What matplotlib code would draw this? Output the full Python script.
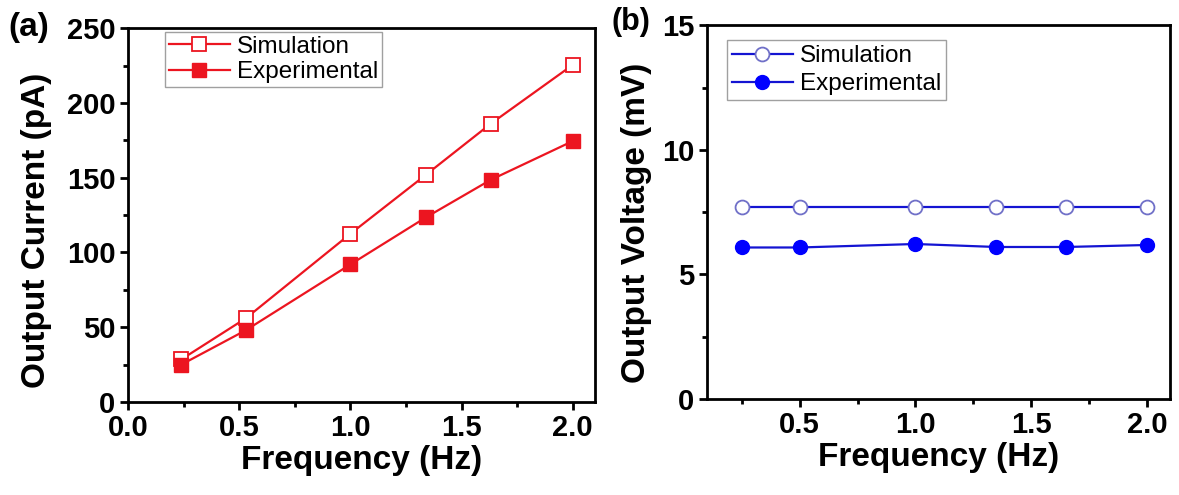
import matplotlib
matplotlib.use("Agg")
import matplotlib.pyplot as plt
from matplotlib.ticker import MultipleLocator

# datos
freq_a = [0.24, 0.53, 1.0, 1.34, 1.63, 2.0]
corriente_sim = [28.5, 56, 112.5, 152, 186, 225.5]
corriente_exp = [25, 48, 92, 123.5, 148.5, 174.5]

freq_b = [0.25, 0.5, 1.0, 1.35, 1.65, 2.0]
voltaje_sim = [7.7, 7.7, 7.7, 7.7, 7.7, 7.7]
voltaje_exp = [6.08, 6.08, 6.22, 6.1, 6.1, 6.18]

plt.rcParams["font.family"] = ["Liberation Sans", "DejaVu Sans"]

fig = plt.figure(figsize=(11.79, 4.95), dpi=100)
ax1 = fig.add_axes([0.1086, 0.188, 0.3961, 0.755])
ax2 = fig.add_axes([0.5997, 0.194, 0.3927, 0.755])

rojo = "#ec1520"
azul = "#1414d2"

# panel (a)
ax1.plot(freq_a, corriente_sim, color=rojo, lw=1.6, marker="s", ms=10,
         mfc="white", mec=rojo, mew=1.3, label="Simulation")
ax1.plot(freq_a, corriente_exp, color=rojo, lw=1.6, marker="s", ms=10,
         mfc=rojo, mec=rojo, label="Experimental")
ax1.set_xlim(0, 2.1)
ax1.set_ylim(0, 250)
ax1.xaxis.set_major_locator(MultipleLocator(0.5))
ax1.xaxis.set_minor_locator(MultipleLocator(0.25))
ax1.yaxis.set_major_locator(MultipleLocator(50))
ax1.yaxis.set_minor_locator(MultipleLocator(25))
ax1.set_ylabel("Output Current (pA)", fontsize=24, fontweight="bold")
ax1.yaxis.set_label_coords(-0.163, 0.46)

# panel (b)
ax2.plot(freq_b, voltaje_sim, color=azul, lw=1.6, marker="o", ms=10,
         mfc="white", mec="#7070c8", mew=1.3, label="Simulation")
ax2.plot(freq_b, voltaje_exp, color=azul, lw=1.6, marker="o", ms=10,
         mfc="#0000ff", mec="#0000ff", label="Experimental")
ax2.set_xlim(0.1, 2.1)
ax2.set_ylim(0, 15)
ax2.xaxis.set_major_locator(MultipleLocator(0.5))
ax2.xaxis.set_minor_locator(MultipleLocator(2.5 / 10))
ax2.yaxis.set_major_locator(MultipleLocator(5))
ax2.yaxis.set_minor_locator(MultipleLocator(2.5))
ax2.set_ylabel("Output Voltage (mV)", fontsize=24, fontweight="bold")
ax2.yaxis.set_label_coords(-0.119, 0.47)

for ax in (ax1, ax2):
    for s in ax.spines.values():
        s.set_linewidth(2)
    ax.tick_params(which="major", direction="out", length=6, width=2,
                   labelsize=21, pad=3)
    ax.tick_params(which="minor", direction="out", length=3.5, width=2)
    for lab in ax.get_xticklabels() + ax.get_yticklabels():
        lab.set_fontweight("bold")
    ax.set_xlabel("Frequency (Hz)", fontsize=24, fontweight="bold", labelpad=2)

ax1.legend(loc="upper left", bbox_to_anchor=(0.08, 0.99), fontsize=17.5,
           frameon=True, fancybox=False, edgecolor="#888888",
           handlelength=2.5, handletextpad=0.3, borderpad=0.15,
           labelspacing=0.15, borderaxespad=0)
ax2.legend(loc="upper left", bbox_to_anchor=(0.043, 0.96), fontsize=17.5,
           frameon=True, fancybox=False, edgecolor="#888888",
           handlelength=2.5, handletextpad=0.3, borderpad=0.2,
           labelspacing=0.25, borderaxespad=0)

fig.text(0.007, 0.928, "(a)", fontsize=24, fontweight="bold")
fig.text(0.519, 0.94, "(b)", fontsize=22, fontweight="bold")

plt.savefig("out.png", dpi=100)
